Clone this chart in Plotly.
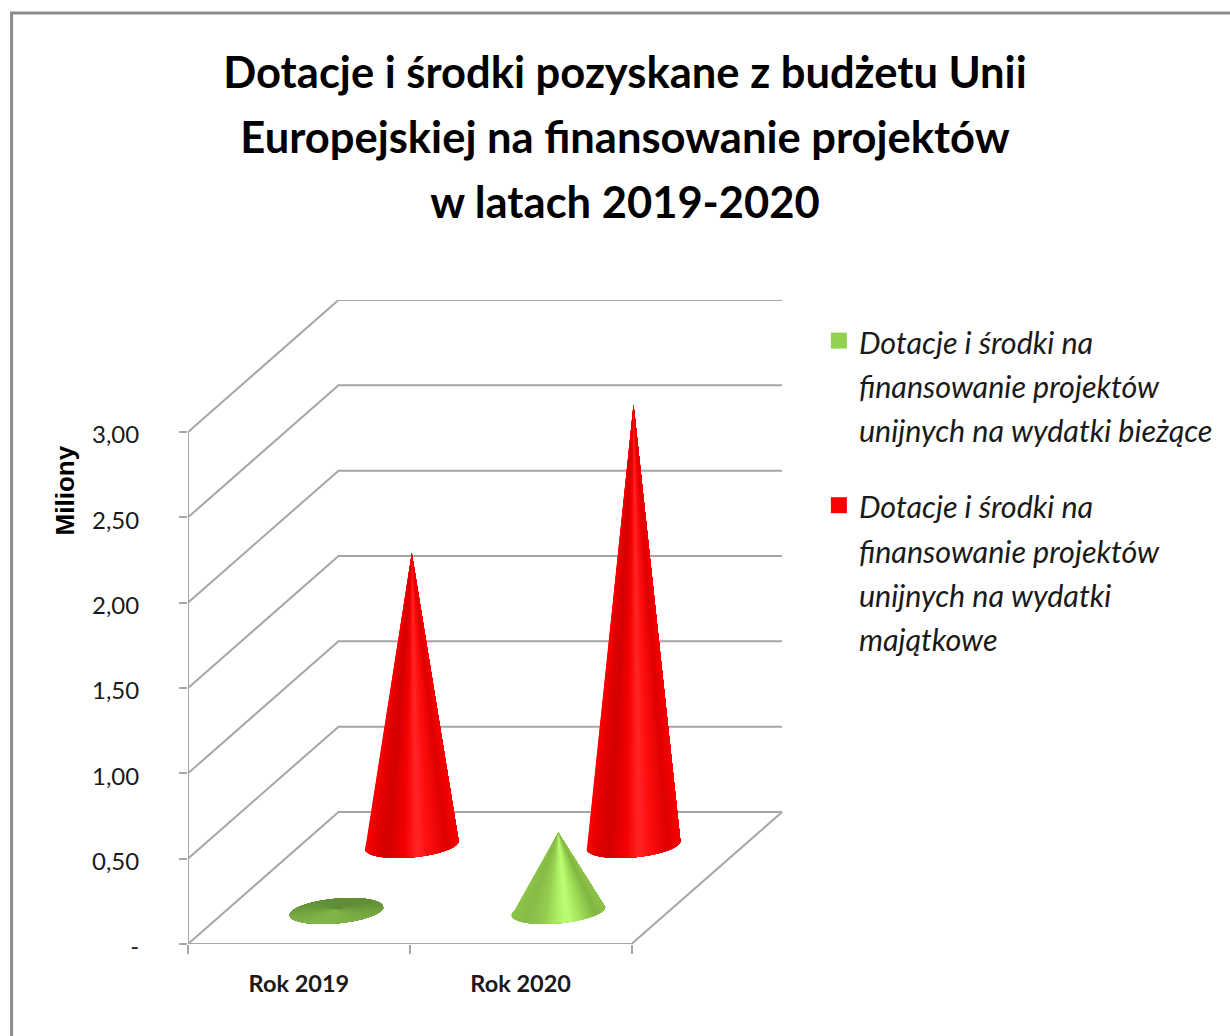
import math
import plotly.graph_objects as go

categories = ["Rok 2019", "Rok 2020"]
series_names = [
    "Dotacje i środki na<br>finansowanie projektów<br>unijnych na wydatki bieżące",
    "Dotacje i środki na<br>finansowanie projektów<br>unijnych na wydatki<br>majątkowe",
]
green_values = [0.01, 0.46]
red_values = [1.71, 2.58]
y_ticks = [0, 0.5, 1, 1.5, 2, 2.5, 3]
y_labels = ["-", "0,50", "1,00", "1,50", "2,00", "2,50", "3,00"]

GRID = "#a6a6a6"
TXT = "#1a1a1a"
FONT = "Lato"
DX, DY = 0.6787, 0.7734      # oblique shift of the full depth, in axis units
RA, RB, RC = 0.2009, 0.0652, 0.0762  # base ellipse, in axis units
PHI = math.atan2(RB, RA)

RED_STOPS = [(-1, (255, 0, 0)), (-0.8, (226, 0, 0)), (-0.5, (212, 0, 0)), (-0.15, (245, 0, 0)),
             (0.12, (255, 38, 38)), (0.35, (255, 14, 14)), (0.75, (222, 0, 0)), (1, (250, 0, 0))]
GREEN_STOPS = [(-1, (140, 196, 72)), (-0.7, (136, 186, 72)), (-0.3, (150, 205, 80)), (0.0, (172, 240, 100)),
               (0.2, (188, 255, 118)), (0.5, (160, 222, 88)), (0.8, (128, 182, 66)), (1, (140, 196, 72))]


def project(x, value, depth):
    return x + depth * DX, value + depth * DY


def mix(stops, u):
    for (u0, c0), (u1, c1) in zip(stops, stops[1:]):
        if u <= u1:
            k = (u - u0) / (u1 - u0)
            return "rgb(%d,%d,%d)" % tuple(round(a + (b - a) * k) for a, b in zip(c0, c1))
    return "rgb(%d,%d,%d)" % stops[-1][1]


fig = go.Figure()


def line(xs, ys):
    fig.add_trace(go.Scatter(x=xs, y=ys, mode="lines", line=dict(color=GRID, width=2),
                             showlegend=False, hoverinfo="skip", cliponaxis=False))


for v in y_ticks:
    x0, y0 = project(0, v, 0)
    x1, y1 = project(0, v, 1)
    x2, y2 = project(2, v, 1)
    line([x0, x1, x2], [y0, y1, y2])
line([0, 0], [0, 3])
x0, y0 = project(0, 0, 0)
x1, y1 = project(2, 0, 0)
x2, y2 = project(2, 0, 1)
line([x0, x1, x2], [y0, y1, y2])


def cone(cat, value, depth, stops):
    cx, cy = project(cat + 0.5, 0, depth)
    tip = (cx, cy + value)
    flat = value < 0.05
    n = 96
    end = 2 * math.pi
    for i in range(n):
        s0 = end * i / n
        mid = s0 + end / n / 2
        if not flat and 0 < i < n // 2:
            continue
        if flat:
            k = (math.sin(mid + PHI) + 1) / 2
            col = "rgb(%d,%d,%d)" % (round(128 - 32 * k), round(180 - 40 * k), round(72 - 18 * k))
        elif i == 0:
            col = mix(stops, -1)
        else:
            col = mix(stops, math.cos(mid))
        steps = [s0 + (end - s0) * j / 40 for j in range(41)]
        xs = [tip[0]] + [cx + RA * math.cos(s + PHI) + RB * math.sin(s + PHI) for s in steps] + [tip[0]]
        ys = [tip[1]] + [cy + RC * math.sin(s + PHI) for s in steps] + [tip[1]]
        fig.add_trace(go.Scatter(x=xs, y=ys, mode="lines", fill="toself", fillcolor=col,
                                 line=dict(width=0), showlegend=False,
                                 hoverinfo="skip", cliponaxis=False))


for c, v in enumerate(red_values):
    cone(c, v, 0.75, RED_STOPS)
for c, v in enumerate(green_values):
    cone(c, v, 0.25, GREEN_STOPS)


def legend_text(s):
    return "<br>".join('<span style="font-size:30.5px">%s</span>' % p for p in s.split("<br>"))


for name, col, grp in zip(series_names, ["#92d050", "#ff0000"], ["a", "b"]):
    fig.add_trace(go.Scatter(x=[None], y=[None], mode="markers", name=legend_text(name), legendgroup=grp,
                             marker=dict(symbol="square", size=17, color=col)))

fig.update_layout(
    width=1230, height=1036, autosize=False,
    margin=dict(l=188, r=444, t=300, b=92),
    paper_bgcolor="white", plot_bgcolor="white",
    font=dict(family=FONT, color=TXT),
    title=dict(
        text="<br>".join('<span style="font-size:43.5px">%s</span>' % s for s in [
            "Dotacje i środki pozyskane z budżetu Unii",
            "Europejskiej na finansowanie projektów",
            "w latach 2019-2020"]),
        font=dict(family=FONT, size=50, color="#000000", weight="bold"),
        x=625 / 1230, xanchor="center", y=1 - 88 / 1036, yanchor="top"),
    xaxis=dict(range=[0, 598 / 222.5], tickvals=[0.5, 1.5], ticktext=categories, ticks="",
               showgrid=False, zeroline=False, showline=False,
               tickfont=dict(family=FONT, size=23.5, color=TXT, weight="bold"), ticklabelstandoff=23,
               minor=dict(tickvals=[0, 1, 2], ticks="outside", ticklen=9, tickwidth=2, tickcolor=GRID, showgrid=False)),
    yaxis=dict(range=[0, 644 / 170.67], tickvals=y_ticks, ticktext=y_labels, ticks="outside", ticklen=8,
               tickwidth=2, tickcolor=GRID, showgrid=False, zeroline=False, showline=False,
               tickfont=dict(family=FONT, size=24, color=TXT), ticklabelstandoff=35, ticklabelshift=3),
    legend=dict(x=(821 - 188) / 598, xanchor="left", y=(944 - 312) / 644, yanchor="top", valign="top",
                font=dict(family=FONT, size=34, color=TXT, style="italic"), tracegroupgap=29,
                bgcolor="rgba(0,0,0,0)", itemclick=False, itemdoubleclick=False),
    annotations=[dict(text="<b>Miliony</b>", textangle=-90, xref="paper", yref="y", xanchor="center", yanchor="middle",
                      x=(65 - 188) / 598, y=(944 - 490) / 170.67, showarrow=False,
                      font=dict(family="Liberation Sans", size=26, color="#000000"))],
    shapes=[dict(type="rect", xref="paper", yref="paper", layer="below",
                 x0=(11 - 188) / 598, x1=(1300 - 188) / 598, y0=-0.3, y1=(944 - 13) / 644,
                 line=dict(color="#8c8c8c", width=3))],
)
fig.write_html("out.html", config=dict(displayModeBar=False),
               post_script="document.body.style.margin='0';")
